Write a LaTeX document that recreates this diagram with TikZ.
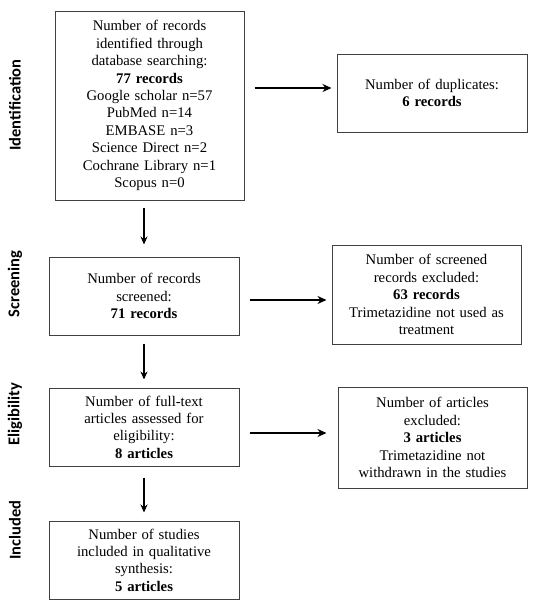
\documentclass[tikz,border=0pt]{standalone}
\usepackage{fontspec}
\setmainfont{Liberation Serif}
\newfontfamily\sidefont{Carlito}
\usetikzlibrary{arrows.meta,positioning,calc}

\begin{document}
\begin{tikzpicture}[x=1pt, y=-1pt,
    box/.style={draw=black!75, line width=1pt, minimum width=190pt, minimum height=78pt, align=center, inner sep=2pt,
                font=\fontsize{14.7}{17.4}\selectfont, text width=184pt},
    phase/.style={rotate=90, font=\sidefont\bfseries\fontsize{16.5}{18}\selectfont},
    arr/.style={-{Stealth[length=9pt, width=8pt]}, line width=2.2pt},
    darr/.style={-{Stealth[length=8pt, width=7pt]}, line width=1.5pt}
]
\useasboundingbox (0,0) rectangle (536,608);

% left column
\node[box, minimum width=189pt, minimum height=189pt] (ident) at (149.5,105.5) {Number of records\\identified through\\database searching:\\\textbf{77 records}\\Google scholar n=57\\PubMed n=14\\EMBASE n=3\\Science Direct n=2\\Cochrane Library n=1\\Scopus n=0};
\node[box] (screen) at (144,296) {Number of records\\screened:\\\textbf{71 records}};
\node[box] (elig) at (144,427) {Number of full-text\\articles assessed for\\eligibility:\\\textbf{8 articles}};
\node[box] (incl) at (144,560) {Number of studies\\included in qualitative\\synthesis:\\\textbf{5 articles}};

% right column
\node[box] (dupl) at (432,93) {Number of duplicates:\\\textbf{6 records}};
\node[box, minimum width=189pt, minimum height=99pt] (scrx) at (426.5,294.5) {Number of screened\\records excluded:\\\textbf{63 records}\\Trimetazidine not used as\\treatment};
\node[box, minimum width=189pt, minimum height=101pt] (artx) at (432.5,437.5) {Number of articles\\excluded:\\\textbf{3 articles}\\Trimetazidine not\\withdrawn in the studies};

% phase labels
\node[phase] (lid) at (15,105) {Identification};
\node[phase] (lsc) at (15,284) {Screening};
\node[phase] (lel) at (15,414) {Eligibility};
\node[phase] (lin) at (15,530) {Included};

% arrows
\draw[darr, shorten <=7pt, shorten >=12pt] (ident.south -| screen) -- (screen);
\draw[darr, shorten <=8pt, shorten >=8pt] (screen) -- (elig);
\draw[darr, shorten <=11pt, shorten >=8pt] (elig) -- (incl);
\draw[arr, shorten <=10pt, shorten >=5pt] ($(ident.east |- dupl)+(0,-5)$) -- ($(dupl.west)+(0,-5)$);
\draw[arr, shorten <=10pt, shorten >=5pt] ($(screen.east)+(0,4)$) -- ($(screen.east -| scrx.west)+(0,4)$);
\draw[arr, shorten <=10pt, shorten >=11pt] ($(elig.east)+(0,6)$) -- ($(elig.east -| artx.west)+(0,6)$);
\end{tikzpicture}
\end{document}
